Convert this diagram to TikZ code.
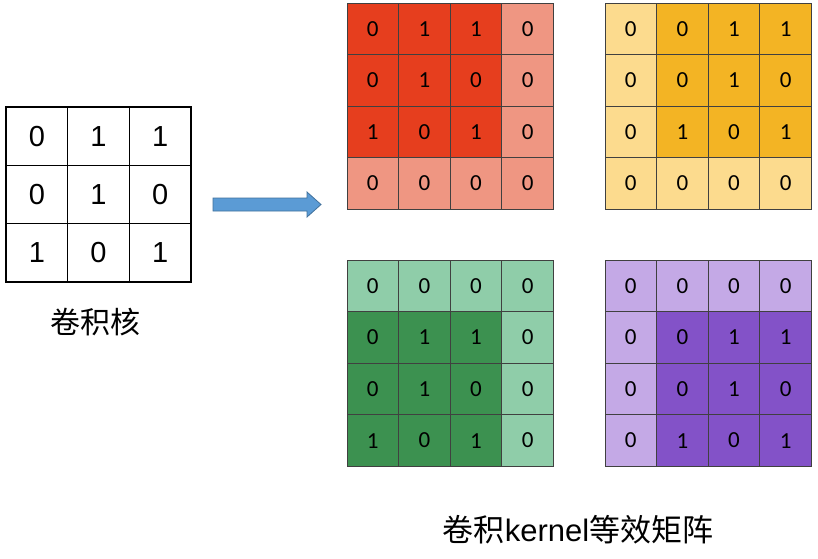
\documentclass[tikz,border=0pt]{standalone}
\usepackage{fontspec}
\setmainfont{Liberation Sans}
\newfontfamily\cjk{Noto Sans CJK SC}
\newfontfamily\cali{Carlito}
\definecolor{reddk}{HTML}{E63E1E}
\definecolor{redlt}{HTML}{EF9682}
\definecolor{yeldk}{HTML}{F3B424}
\definecolor{yellt}{HTML}{FCDB8E}
\definecolor{grndk}{HTML}{3C9150}
\definecolor{grnlt}{HTML}{8FCDA9}
\definecolor{purdk}{HTML}{8352C8}
\definecolor{purlt}{HTML}{C4A9E6}
\definecolor{arrfill}{HTML}{5B9BD5}
\definecolor{arrdraw}{HTML}{41719C}
\tikzset{
  kcell/.style={draw=black, line width=1.4pt, minimum width=61.7pt, minimum height=58.3pt, inner sep=0pt, font=\fontsize{29}{29}\selectfont},
  gcell/.style={draw=black!75, line width=0.7pt, minimum width=51.6pt, minimum height=51.6pt, inner sep=0pt, font=\cali\fontsize{23}{23}\selectfont},
  lbl/.style={font=\fontsize{30}{30}\selectfont, inner sep=0pt},
  blbl/.style={font=\fontsize{31}{31}\selectfont, inner sep=0pt},
  bigarrow/.style={fill=arrfill, draw=arrdraw, line width=0.8pt}
}
\newcommand\gridfour[8]{%
  \foreach \v [count=\k from 0] in {#8} {%
    \pgfmathtruncatemacro\rr{int(\k/4)}%
    \pgfmathtruncatemacro\cc{mod(\k,4)}%
    \pgfmathtruncatemacro\isdark{and(and(\rr>=#4,\rr<=#4+2),and(\cc>=#5,\cc<=#5+2))}%
    \ifnum\isdark=1 \def\fc{#6}\else\def\fc{#7}\fi
    \node[gcell, fill=\fc] (#1-\rr-\cc) at ({#2+(\cc+0.5)*51.6},{#3+(\rr+0.5)*51.6}) {\v};
  }%
}
\begin{document}
\begin{tikzpicture}[x=1pt,y=-1pt]
\useasboundingbox[fill=white] (0,0) rectangle (818,558);
% kernel
\foreach \v [count=\k from 0] in {0,1,1,0,1,0,1,0,1} {
  \pgfmathtruncatemacro\rr{int(\k/3)}
  \pgfmathtruncatemacro\cc{mod(\k,3)}
  \node[kcell] (k-\rr-\cc) at ({6+(\cc+0.5)*61.7},{107+(\rr+0.5)*58.3}) {\v};
}
\node[lbl] (klabel) at (95,322) {\cjk 卷积核};
% arrow
\draw[bigarrow] (213,198) -- (307,198) -- (307,192) -- (321,204.5) -- (307,217) -- (307,211) -- (213,211) -- cycle;
% grids
\gridfour{R}{347}{3}{0}{0}{reddk}{redlt}{0,1,1,0,0,1,0,0,1,0,1,0,0,0,0,0}
\gridfour{Y}{605}{3}{0}{1}{yeldk}{yellt}{0,0,1,1,0,0,1,0,0,1,0,1,0,0,0,0}
\gridfour{G}{347}{260}{1}{0}{grndk}{grnlt}{0,0,0,0,0,1,1,0,0,1,0,0,1,0,1,0}
\gridfour{P}{605}{260}{1}{1}{purdk}{purlt}{0,0,0,0,0,0,1,1,0,0,1,0,0,1,0,1}
\node[blbl] (blabel) at (578,530) {\cjk 卷积\rmfamily kernel\cjk 等效矩阵};
\end{tikzpicture}
\end{document}
